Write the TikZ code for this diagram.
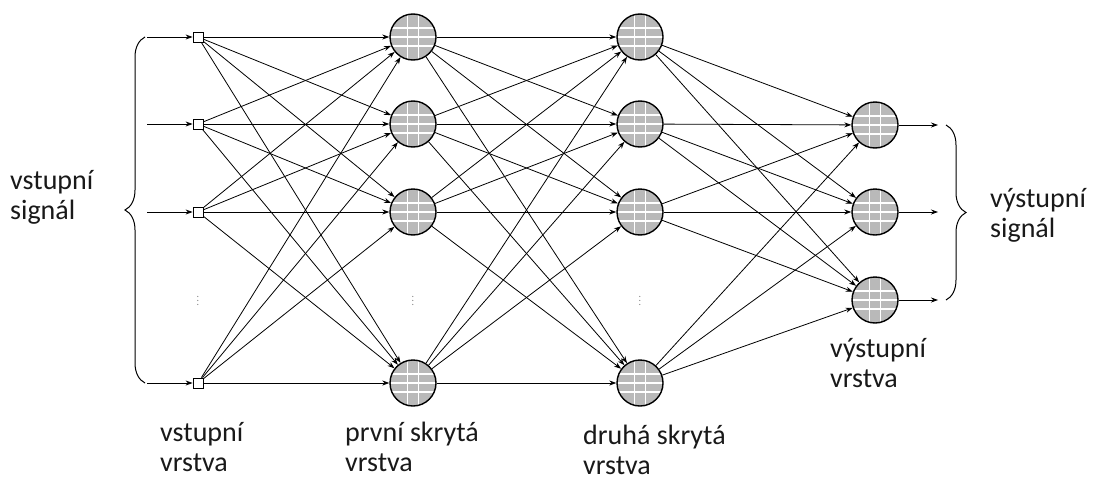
\documentclass[tikz,border=0pt]{standalone}
\usepackage{fontspec}
\setmainfont{Carlito}
\usetikzlibrary{arrows.meta,decorations.pathreplacing}
\tikzset{
    inp/.style={draw, fill=white, line width=0.8pt, minimum size=10pt, inner sep=0pt},
    neuron/.style={circle, draw, line width=1.4pt, minimum size=46pt, inner sep=0pt,
        path picture={
            \fill[gray!55] (path picture bounding box.south west) rectangle (path picture bounding box.north east);
            \foreach \k in {-1,1} {
                \draw[white, line width=1.8pt] ([xshift=\k*5.5pt]path picture bounding box.north) -- ([xshift=\k*5.5pt]path picture bounding box.south);
            }
            \foreach \k in {-1,0,1} {
                \draw[white, line width=1.8pt] ([yshift=\k*9pt]path picture bounding box.west) -- ([yshift=\k*9pt]path picture bounding box.east);
            }
        }},
    conn/.style={-{Stealth[length=7pt,width=5pt]}, line width=0.8pt},
    dots/.style={text=gray, inner sep=0pt},
    lbl/.style={anchor=north west, inner sep=0pt, align=left, font=\fontsize{28}{30}\selectfont, text=black!90}
}
\begin{document}
\begin{tikzpicture}[x=1pt,y=-1pt]
            \useasboundingbox (0,0) rectangle (1093,482);
            % vstupni vrstva
            \node[inp] (i1) at (198,37) {};
            \node[inp] (i2) at (198,124) {};
            \node[inp] (i3) at (198,212) {};
            \node[inp] (i4) at (198,383) {};
            % prvni skryta vrstva
            \node[neuron] (h1) at (413,37) {};
            \node[neuron] (h2) at (413,124) {};
            \node[neuron] (h3) at (413,212) {};
            \node[neuron] (h4) at (413,383) {};
            % druha skryta vrstva
            \node[neuron] (g1) at (640,37) {};
            \node[neuron] (g2) at (640,124) {};
            \node[neuron] (g3) at (640,212) {};
            \node[neuron] (g4) at (640,383) {};
            % vystupni vrstva
            \node[neuron] (o1) at (875,125) {};
            \node[neuron] (o2) at (875,212) {};
            \node[neuron] (o3) at (875,300) {};
            % vstupy a vystupy
            \coordinate (s1) at (147,37);
            \coordinate (s2) at (147,124);
            \coordinate (s3) at (147,212);
            \coordinate (s4) at (147,383);
            \coordinate (e1) at (938,125);
            \coordinate (e2) at (938,212);
            \coordinate (e3) at (938,300);
            \foreach \a in {1,...,4} {
                \draw[conn] (s\a) -- (i\a);
                \foreach \b in {1,...,4} {
                    \draw[conn] (i\a) -- (h\b);
                    \draw[conn] (h\a) -- (g\b);
                }
                \foreach \b in {1,...,3}
                    \draw[conn] (g\a) -- (o\b);
            }
            \foreach \b in {1,...,3}
                \draw[conn] (o\b) -- (e\b);
            % zavorky
            \draw[line width=1pt, decorate, decoration={brace, amplitude=20pt}] (145,383) -- (145,37);
            \draw[line width=1pt, decorate, decoration={brace, amplitude=20pt}] (946,125) -- (946,300);
            % tecky
            \node[dots] (d1) at (198,298) {$\vdots$};
            \node[dots] (d2) at (413,298) {$\vdots$};
            \node[dots] (d3) at (640,298) {$\vdots$};
            % popisky
            \node[lbl] (vs) at (10,170) {vstupní\\signál};
            \node[lbl] (ys) at (990,188) {výstupní\\signál};
            \node[lbl] (vv) at (160,422) {vstupní\\vrstva};
            \node[lbl] (pv) at (345,422) {první skrytá\\vrstva};
            \node[lbl] (dv) at (583,425) {druhá skrytá\\vrstva};
            \node[lbl] (yv) at (830,338) {výstupní\\vrstva};
\end{tikzpicture}
\end{document}
